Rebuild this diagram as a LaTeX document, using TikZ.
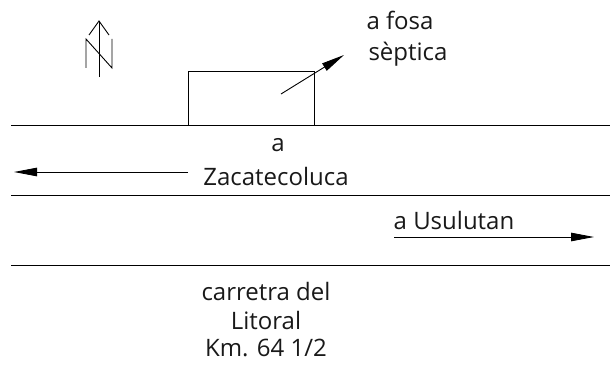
\documentclass[tikz,border=0pt]{standalone}
\usepackage{fontspec}
\setmainfont{Open Sans}
\usetikzlibrary{arrows.meta}
\tikzset{
    plan/.style={black, line width=0.9pt},
    road/.style={plan},
    guide/.style={plan, -{Triangle[length=23pt,width=8.5pt]}},
    label/.style={font=\fontsize{24}{28}\selectfont, inner sep=0pt, text=black!90},
}

\begin{document}
\begin{tikzpicture}[x=1pt, y=-1pt]
        \useasboundingbox (0,0) rectangle (610,369);
        % north sign
        \coordinate (northbottom) at (99,77);
        \coordinate (northtop) at (99,21);
        \draw[plan] (northbottom) -- (northtop);
        \draw[plan] (89,35) -- (northtop) -- (109,35);
        \draw[plan] (86,68) -- (86,39) -- (112,68) -- (112,39);
        % roads
        \draw[road] (11,125) coordinate (roadaleft) -- (610,125) coordinate (roadaright);
        \draw[road] (11,195) coordinate (roadbleft) -- (610,195) coordinate (roadbright);
        \draw[road] (11,265) coordinate (roadcleft) -- (610,265) coordinate (roadcright);
        % house
        \draw[plan] (188,125) -- (188,71) -- (314,71) -- (314,125);
        % arrows
        \coordinate (septicstart) at (281,94);
        \coordinate (septicend) at (344,55);
        \draw[guide] (septicstart) -- (septicend);
        \coordinate (zacastart) at (188,172);
        \coordinate (zacaend) at (14,172);
        \draw[guide] (zacastart) -- (zacaend);
        \coordinate (usustart) at (394,237);
        \coordinate (usuend) at (594,237);
        \draw[guide] (usustart) -- (usuend);
        % texts
        \node[label] (fosa) at (400,20) {a fosa};
        \node[label] (septica) at (408,54) {sèptica};
        \node[label] (a) at (278,145) {a};
        \node[label] (zaca) at (276,176) {Zacatecoluca};
        \node[label] (usu) at (454,220) {a Usulutan};
        \node[label] (carretera) at (266,291) {carretra del};
        \node[label] (litoral) at (266,320) {Litoral};
        \node[label] (km) at (266,348) {Km. 64 1/2};
    \end{tikzpicture}
\end{document}
